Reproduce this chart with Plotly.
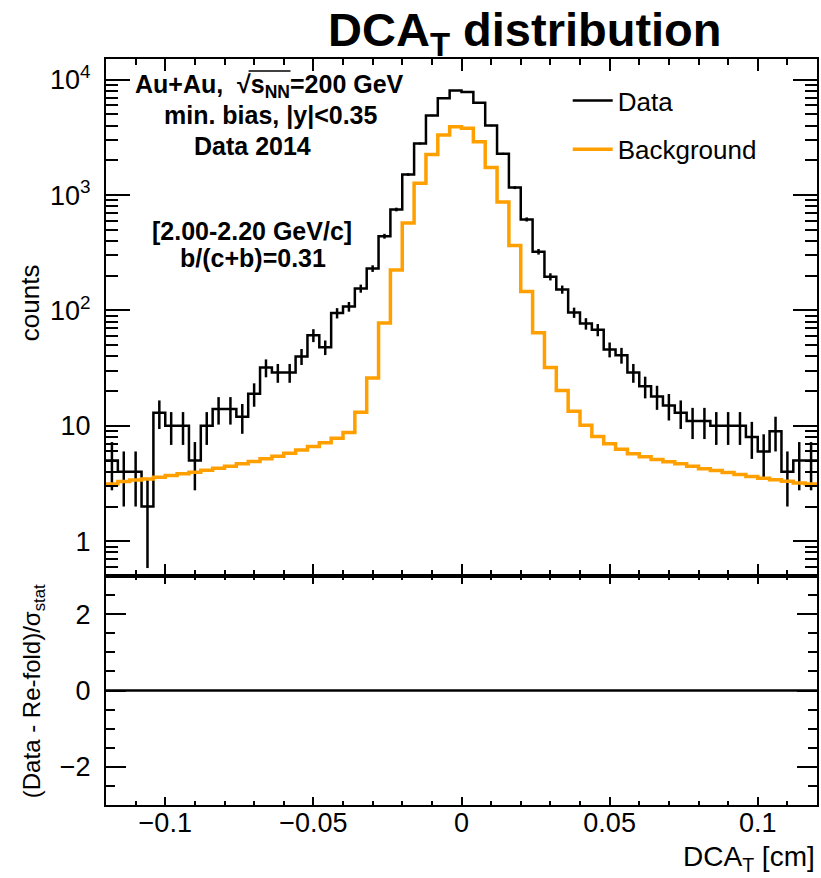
import numpy as np
import plotly.graph_objects as go

# ---------------- data ----------------
bin_low, bin_high, n_bins = -0.12, 0.12, 60
data_counts = [5, 4, 4, 2, 13, 10, 10, 5, 10, 14,
               14, 12, 19, 32, 29, 29, 40, 61, 48, 95,
               108, 155, 231, 440, 750, 1506, 2795, 4900, 6900, 8050,
               7820, 6300, 4000, 2276, 1160, 615, 323, 196, 152, 96,
               77, 68, 46, 41, 29, 22, 18, 15, 13, 11,
               11, 10, 10, 10, 8, 6, 9, 4, 5, 5]
background = [3.14, 3.29, 3.40, 3.47, 3.59, 3.71, 3.84, 3.96, 4.12, 4.29,
              4.47, 4.69, 4.91, 5.18, 5.45, 5.79, 6.18, 6.64, 7.13, 7.8,
              8.75, 13.1, 26, 78, 224, 574, 1268, 2243, 3310, 3900,
              3790, 2895, 1730, 870, 365, 146, 64, 32, 20.2, 13.4,
              10.1, 8.08, 7.0, 6.27, 5.74, 5.39, 5.1, 4.88, 4.69, 4.47,
              4.26, 4.1, 3.94, 3.78, 3.64, 3.52, 3.42, 3.31, 3.2, 3.14]
residual = [0.0] * 60
log_major_vals = [1, 10, 100, 1000, 10000]
log_major_text = ["1", "10", "10<sup>2</sup>", "10<sup>3</sup>", "10<sup>4</sup>"]

edges = np.linspace(bin_low, bin_high, n_bins + 1)
centers = 0.5 * (edges[:-1] + edges[1:])
data_err = np.sqrt(np.array(data_counts, dtype=float))  # Poisson stat. errors


def step(vals):
    v = list(vals)
    return list(edges), v + [v[-1]]


FONT = "Liberation Sans, Arial, Helvetica, sans-serif"
ORANGE = "#ffa000"

fig = go.Figure()
xs, ys = step(data_counts)
fig.add_trace(go.Scatter(x=xs, y=ys, mode="lines", line=dict(color="black", width=2.5, shape="hv"),
                         name="Data", legendgroup="a", xaxis="x", yaxis="y"))
fig.add_trace(go.Scatter(x=centers, y=data_counts, mode="markers", marker=dict(size=1, color="black"),
                         error_y=dict(type="data", array=data_err, width=0, thickness=2.5, color="black"),
                         showlegend=False, xaxis="x", yaxis="y", hoverinfo="skip"))
xs, ys = step(background)
fig.add_trace(go.Scatter(x=xs, y=ys, mode="lines", line=dict(color=ORANGE, width=3.5, shape="hv"),
                         name="Background", legendgroup="b", xaxis="x", yaxis="y"))
xs, ys = step(residual)
fig.add_trace(go.Scatter(x=xs, y=ys, mode="lines", line=dict(color="black", width=2.5, shape="hv"),
                         showlegend=False, xaxis="x2", yaxis="y2"))

# ---------------- layout ----------------
L, R, T, B = 106, 2, 59, 73
W_FIG, H_FIG = 821, 878
W = W_FIG - L - R
H = H_FIG - T - B
split = 229 / H


def px(x):
    return (x - L) / W


def py(y):
    return (H_FIG - B - y) / H


minor_log = [m * 10 ** e for e in range(-1, 4) for m in range(2, 10) if 0.5 <= m * 10 ** e <= 15000]

axis_common = dict(showline=True, linecolor="black", linewidth=2, mirror="allticks",
                   ticks="inside", tickcolor="black", tickwidth=1.5, showgrid=False, zeroline=False,
                   tickfont=dict(family=FONT, size=27, color="black"))

fig.update_layout(
    width=W_FIG, height=H_FIG,
    margin=dict(l=L, r=R, t=T, b=B),
    paper_bgcolor="white", plot_bgcolor="white",
    font=dict(family=FONT, color="black"),
    title=dict(text="<b>DCA<sub>T</sub> distribution</b>", x=px(526), xref="paper", xanchor="center",
               y=1 - 30 / H_FIG, yref="container", yanchor="middle",
               font=dict(family=FONT, size=47, color="black")),
    xaxis=dict(domain=[0, 1], anchor="y", range=[bin_low, bin_high], dtick=0.05, tick0=0,
               ticklen=12, showticklabels=False,
               minor=dict(dtick=0.01, tick0=0, ticklen=6, ticks="inside", tickcolor="black"),
               **axis_common),
    yaxis=dict(domain=[split, 1], anchor="x", type="log", range=[np.log10(0.5), np.log10(15100)],
               tickmode="array", tickvals=log_major_vals, ticktext=log_major_text, ticklen=24,
               ticklabelstandoff=8,
               minor=dict(tickmode="array", tickvals=minor_log, ticklen=12, ticks="inside", tickcolor="black"),
               **axis_common),
    xaxis2=dict(domain=[0, 1], anchor="y2", matches="x", range=[bin_low, bin_high], dtick=0.05, tick0=0,
                ticklen=8, ticklabelstandoff=-7,
                minor=dict(dtick=0.01, tick0=0, ticklen=4, ticks="inside", tickcolor="black"),
                **axis_common),
    yaxis2=dict(domain=[0, split], anchor="x2", range=[-3, 3], dtick=2, tick0=0, ticklen=20,
                ticklabelstandoff=8,
                minor=dict(dtick=0.5, tick0=0, ticklen=9, ticks="inside", tickcolor="black"),
                **axis_common),
    legend=dict(x=px(569), y=py(77), xanchor="left", yanchor="top", bgcolor="rgba(0,0,0,0)",
                itemwidth=40,
                font=dict(family=FONT, size=26, color="black"), tracegroupgap=12),
    showlegend=True,
)

ann = []


def add_text(text, x, y, size, angle=0, xanchor="center", bold=False):
    ann.append(dict(text=f"<b>{text}</b>" if bold else text, x=px(x), y=py(y), xref="paper", yref="paper",
                    showarrow=False, xanchor=xanchor, yanchor="middle", textangle=angle,
                    font=dict(family=FONT, size=size, color="black")))


add_text("Au+Au,  √s<sub>NN</sub>=200 GeV", 270, 86, 25, bold=True)
add_text("min. bias, |y|&lt;0.35", 271, 115, 25, bold=True)
add_text("Data 2014", 253, 146, 25, bold=True)
add_text("[2.00-2.20 GeV/c]", 252, 231, 25, bold=True)
add_text("b/(c+b)=0.31", 253, 258, 25, bold=True)
add_text("counts", 30, 303, 26, angle=-90)
add_text("(Data - Re-fold)/σ<sub>stat</sub>", 33, 691, 24, angle=-90)
add_text("DCA<sub>T</sub> [cm]", 819, 858, 28, xanchor="right")
fig.update_layout(annotations=ann)

# overline of the square-root sign
fig.add_shape(type="line", xref="paper", yref="paper", x0=px(249), x1=px(291), y0=py(71), y1=py(71),
              line=dict(color="black", width=1.5))

fig.write_html("out.html")
